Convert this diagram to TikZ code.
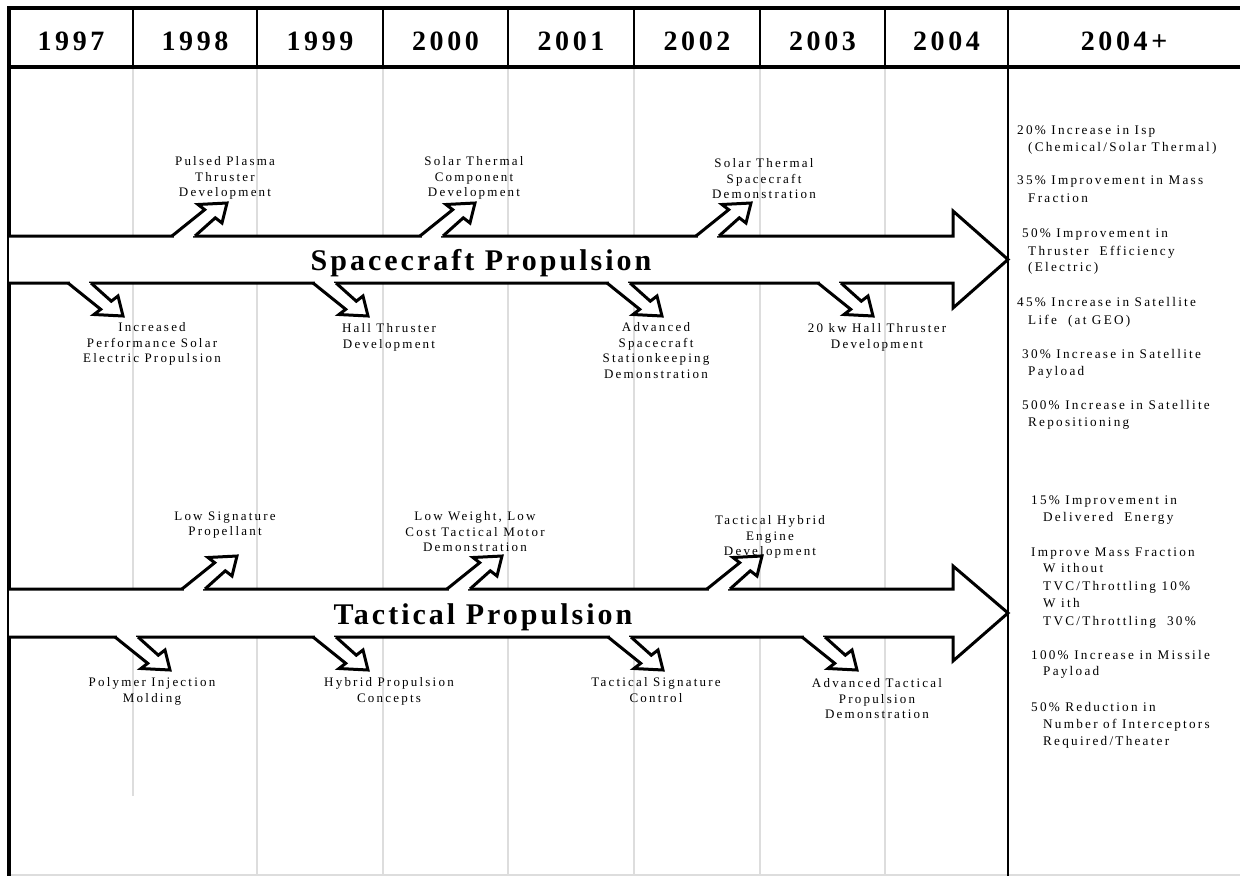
\documentclass[tikz,border=0pt]{standalone}
\usepackage{fontspec}
\setmainfont{Liberation Serif}
\newfontfamily\lblfont[LetterSpace=17]{Liberation Serif}
\newfontfamily\hdrfont[LetterSpace=13]{Liberation Serif}
\newfontfamily\ttlfont[LetterSpace=10]{Liberation Serif}
\definecolor{gridgrey}{HTML}{DDDDDD}
\tikzset{
  lbl/.style={font=\lblfont\fontsize{13}{15.5}\selectfont, align=center, inner sep=0pt, anchor=north},
  rtxt/.style={font=\lblfont\fontsize{13.2}{17}\selectfont, inner sep=0pt, anchor=base west},
  hdr/.style={font=\hdrfont\fontsize{28}{30}\selectfont\bfseries, inner sep=0pt, anchor=base},
  ttl/.style={font=\ttlfont\fontsize{30}{34}\selectfont\bfseries, inner sep=0pt, anchor=base},
  gridline/.style={gridgrey, line width=2pt},
  framebold/.style={black, line width=3.5pt},
  divider/.style={black, line width=2.5pt},
  bigarrow/.style={line width=3pt, line join=miter},
  smallarrow/.style={line width=3pt, line join=miter},
}
\newcommand{\sparrow}[3]{% x, y, direction (1 = up, -1 = down)
  \begin{scope}[shift={(#1,#2)}, yscale=#3]
    \fill[white] (2,-2.2) rectangle (21,2.2);
    \fill[white] (0,0) -- (32.7,-26.3) -- (26,-31.5) -- (55,-33) -- (50,-13) -- (43.3,-18.2) -- (23,0) -- cycle;
    \draw[smallarrow] (0,0) -- (32.7,-26.3) -- (26,-31.5) -- (55,-33) -- (50,-13) -- (43.3,-18.2) -- (23,0);
  \end{scope}}
\begin{document}
\begin{tikzpicture}[x=1pt, y=-1pt]
\useasboundingbox (0,0) rectangle (1240,876);
\fill[white] (0,0) rectangle (1240,876);
% grid lines
\draw[gridline] (133,67) -- (133,796);
\foreach \gx in {257,383,508,634,760,885} {\draw[gridline] (\gx,67) -- (\gx,876);}
\draw[gridgrey, line width=1.5pt] (9,875) -- (1240,875);
% frame
\draw[framebold] (7,8) -- (1240,8);
\draw[framebold] (7,67) -- (1240,67);
\draw[framebold] (9,6) -- (9,876);
\draw[divider] (1008,8) -- (1008,876);
\foreach \gx in {133,257,383,508,634,760,885} {\draw[divider] (\gx,8) -- (\gx,67);}
% header
\node[hdr] (y1997) at (71,50) {1997};
\node[hdr] (y1998) at (195,50) {1998};
\node[hdr] (y1999) at (320,50) {1999};
\node[hdr] (y2000) at (445.5,50) {2000};
\node[hdr] (y2001) at (571,50) {2001};
\node[hdr] (y2002) at (697,50) {2002};
\node[hdr] (y2003) at (822.5,50) {2003};
\node[hdr] (y2004) at (946.5,50) {2004};
\node[hdr] (y2004p) at (1124,50) {2004+};
% big arrows
\fill[white] (9,236) -- (953,236) -- (953,211) -- (1008,259.5) -- (953,308) -- (953,283) -- (9,283) -- cycle;
\draw[bigarrow] (9,236) -- (953,236) -- (953,211) -- (1008,259.5) -- (953,308) -- (953,283) -- (9,283);
\fill[white] (9,589) -- (953,589) -- (953,566) -- (1008,613) -- (953,661) -- (953,637) -- (9,637) -- cycle;
\draw[bigarrow] (9,589) -- (953,589) -- (953,566) -- (1008,613) -- (953,661) -- (953,637) -- (9,637);
\node[ttl] (sp) at (481,270.5) {Spacecraft Propulsion};
\node[ttl] (tp) at (483,624) {Tactical Propulsion};
% small arrows
\sparrow{172}{236}{1}
\sparrow{420}{236}{1}
\sparrow{696}{236}{1}
\sparrow{68}{283}{-1}
\sparrow{313}{283}{-1}
\sparrow{607}{283}{-1}
\sparrow{818}{283}{-1}
\sparrow{182}{589}{1}
\sparrow{447}{589}{1}
\sparrow{707}{589}{1}
\sparrow{115}{637}{-1}
\sparrow{313}{637}{-1}
\sparrow{608}{637}{-1}
\sparrow{802}{637}{-1}
% arrow labels
\node[lbl] (l1) at (225,156.5) {Pulsed Plasma\\Thruster\\Development};
\node[lbl] (l2) at (474,156.5) {Solar Thermal\\Component\\Development};
\node[lbl] (l3) at (764,158.5) {Solar Thermal\\Spacecraft\\Demonstration};
\node[lbl] (l4) at (152,322.5) {Increased\\Performance Solar\\Electric Propulsion};
\node[lbl] (l5) at (389,323.5) {Hall Thruster\\Development};
\node[lbl] (l6) at (656,322.5) {Advanced\\Spacecraft\\Stationkeeping\\Demonstration};
\node[lbl] (l7) at (877,323.5) {20 kw Hall Thruster\\Development};
\node[lbl] (l8) at (225,511.5) {Low Signature\\Propellant};
\node[lbl] (l9) at (475,511.5) {Low Weight, Low\\Cost Tactical Motor\\Demonstration};
\node[lbl] (l10) at (770,515.5) {Tactical Hybrid\\Engine\\Development};
\node[lbl] (l11) at (152,677.5) {Polymer Injection\\Molding};
\node[lbl] (l12) at (389,677.5) {Hybrid Propulsion\\Concepts};
\node[lbl] (l13) at (656,677.5) {Tactical Signature\\Control};
\node[lbl] (l14) at (877,678.5) {Advanced Tactical\\Propulsion\\Demonstration};
% right column texts
\foreach \rx/\ry/\rt [count=\i] in {
  1017/130/{20\% Increase in Isp},
  1028/147/{(Chemical/Solar Thermal)},
  1017/180/{35\% Improvement in Mass},
  1028/198/{Fraction},
  1022/233/{50\% Improvement in},
  1028/251/{Thruster\ \ Efficiency},
  1028/267/{(Electric)},
  1017/302/{45\% Increase in Satellite},
  1028/320/{Life\ \ (at GEO)},
  1022/354/{30\% Increase in Satellite},
  1028/371/{Payload},
  1022/405/{500\% Increase in Satellite},
  1028/422/{Repositioning},
  1031/500/{15\% Improvement in},
  1043/517/{Delivered\ \ Energy},
  1031/552/{Improve Mass Fraction},
  1043/568/{W ithout},
  1043/586/{TVC/Throttling 10\%},
  1043/603/{W ith},
  1043/621/{TVC/Throttling\ \ 30\%},
  1031/655/{100\% Increase in Missile},
  1043/671/{Payload},
  1031/707/{50\% Reduction in},
  1043/724/{Number of Interceptors},
  1043/741/{Required/Theater}} {
  \node[rtxt] (r\i) at (\rx,\ry+4.5) {\rt};
}
\end{tikzpicture}
\end{document}
